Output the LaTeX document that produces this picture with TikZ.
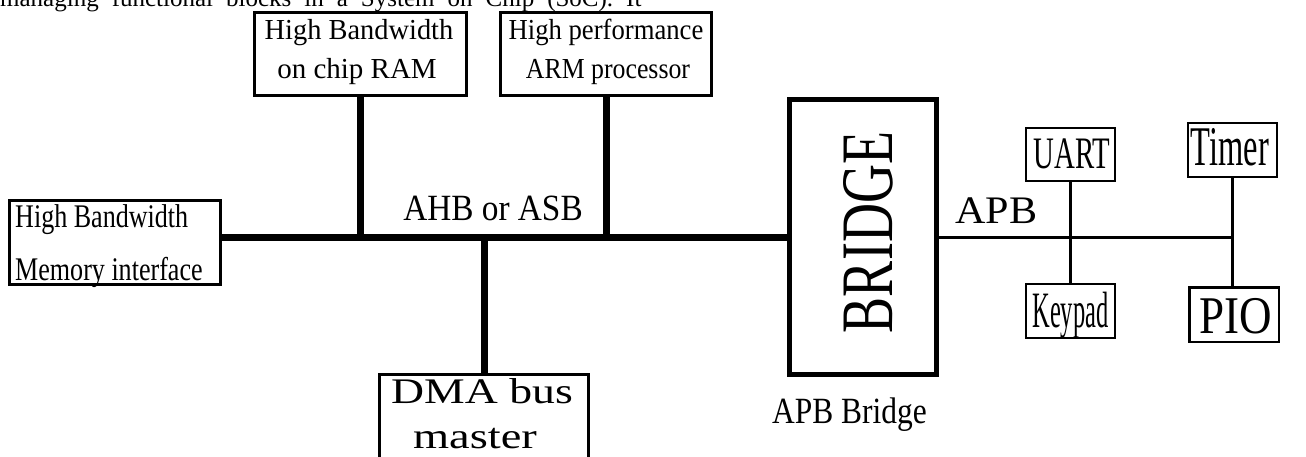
\documentclass[tikz,border=0pt]{standalone}
\usepackage{fontspec}
\usepackage{graphicx}
\setmainfont{Liberation Serif}
\newcommand{\fsz}[1]{\fontsize{#1}{#1}\selectfont}
\newcommand{\hsc}[2]{\scalebox{#1}[1]{#2}}
\tikzset{
  blk/.style={draw, line width=3pt, inner sep=0pt},
  smallblk/.style={draw, line width=2pt, inner sep=0pt},
  txt/.style={inner sep=0pt, anchor=base},
  txtl/.style={inner sep=0pt, anchor=base west},
  ahb/.style={line width=7pt},
  apb/.style={line width=3pt}
}
\begin{document}
\begin{tikzpicture}[x=1pt,y=-1pt]
\clip (0,0) rectangle (1306,457);
\fill[white] (0,0) rectangle (1306,457);

% running text above the figure
\node[txtl] (intro) at (0,7) {\fsz{25}\spaceskip=13pt\relax managing functional blocks in a System on Chip (SoC). It};

% AHB / ASB side blocks
\node[blk, minimum width=211pt, minimum height=84pt] (mem) at (115,242.5) {};
\node[blk, minimum width=212pt, minimum height=83pt] (ram) at (360.5,54) {};
\node[blk, minimum width=211pt, minimum height=83pt] (arm) at (606,54) {};
\node[blk, minimum width=209pt, minimum height=109pt] (dma) at (484,429) {};
\node[draw, line width=5pt, inner sep=0pt, minimum width=147pt, minimum height=275pt] (bridge) at (863,237) {};

% APB peripherals
\node[smallblk, minimum width=89pt, minimum height=53pt] (uart) at (1070.5,154.5) {};
\node[smallblk, minimum width=89pt, minimum height=54pt] (keypad) at (1070.5,311) {};
\node[smallblk, minimum width=89pt, minimum height=54pt] (timer) at (1232.5,150) {};
\node[draw, line width=2.5pt, inner sep=0pt, minimum width=89.5pt, minimum height=54.5pt] (pio) at (1234,314.5) {};

% high-speed bus and its taps
\draw[ahb] (mem.east |- bridge.west) -- (bridge.west);
\draw[ahb] (ram.south) -- (ram.south |- bridge.west);
\draw[ahb] (arm.south) -- (arm.south |- bridge.west);
\draw[ahb] (dma.north) -- (dma.north |- bridge.west);

% peripheral bus
\draw[apb] (bridge.east) -- (timer.south |- bridge.east);
\draw[apb] (uart.south) -- (keypad.north);
\draw[apb] (timer.south) -- (timer.south |- pio.north);

% block texts
\node[txtl] (memA) at (15,228) {\fsz{33}\hsc{0.79}{High Bandwidth}};
\node[txtl] (memB) at (15,280) {\fsz{33}\hsc{0.79}{Memory interface}};
\node[txt] (ramA) at (359,40) {\fsz{29}\hsc{0.98}{High Bandwidth}};
\node[txt] (ramB) at (357,79) {\fsz{29}\hsc{1.0}{on chip RAM}};
\node[txt] (armA) at (606,40) {\fsz{29}\hsc{0.92}{High performance}};
\node[txt] (armB) at (608,79) {\fsz{29}\hsc{0.89}{ARM processor}};
\node[txt] (dmaA) at (482,403) {\fsz{36}\hsc{1.27}{DMA bus}};
\node[txt] (dmaB) at (475,448) {\fsz{36}\hsc{1.29}{master}};
\node[txt, rotate=90] (brtxt) at (892,232.5) {\fsz{74}\hsc{0.73}{BRIDGE}};
\node[txt] (uarttxt) at (1072,169) {\fsz{45}\hsc{0.64}{UART}};
\node[txt] (keytxt) at (1070.5,327) {\fsz{51}\hsc{0.48}{Keypad}};
\node[txt] (timtxt) at (1230,166) {\fsz{56}\hsc{0.58}{Timer}};
\node[txt] (piotxt) at (1235.5,333) {\fsz{53}\hsc{0.85}{PIO}};

% bus labels
\node[txt] (ahbtxt) at (493,220) {\fsz{37}\hsc{0.9}{AHB or ASB}};
\node[txtl] (apbtxt) at (955,224) {\fsz{39}\hsc{1.08}{APB}};
\node[txtl] (brlbl) at (772,423) {\fsz{37}\hsc{0.85}{APB Bridge}};
\end{tikzpicture}
\end{document}
